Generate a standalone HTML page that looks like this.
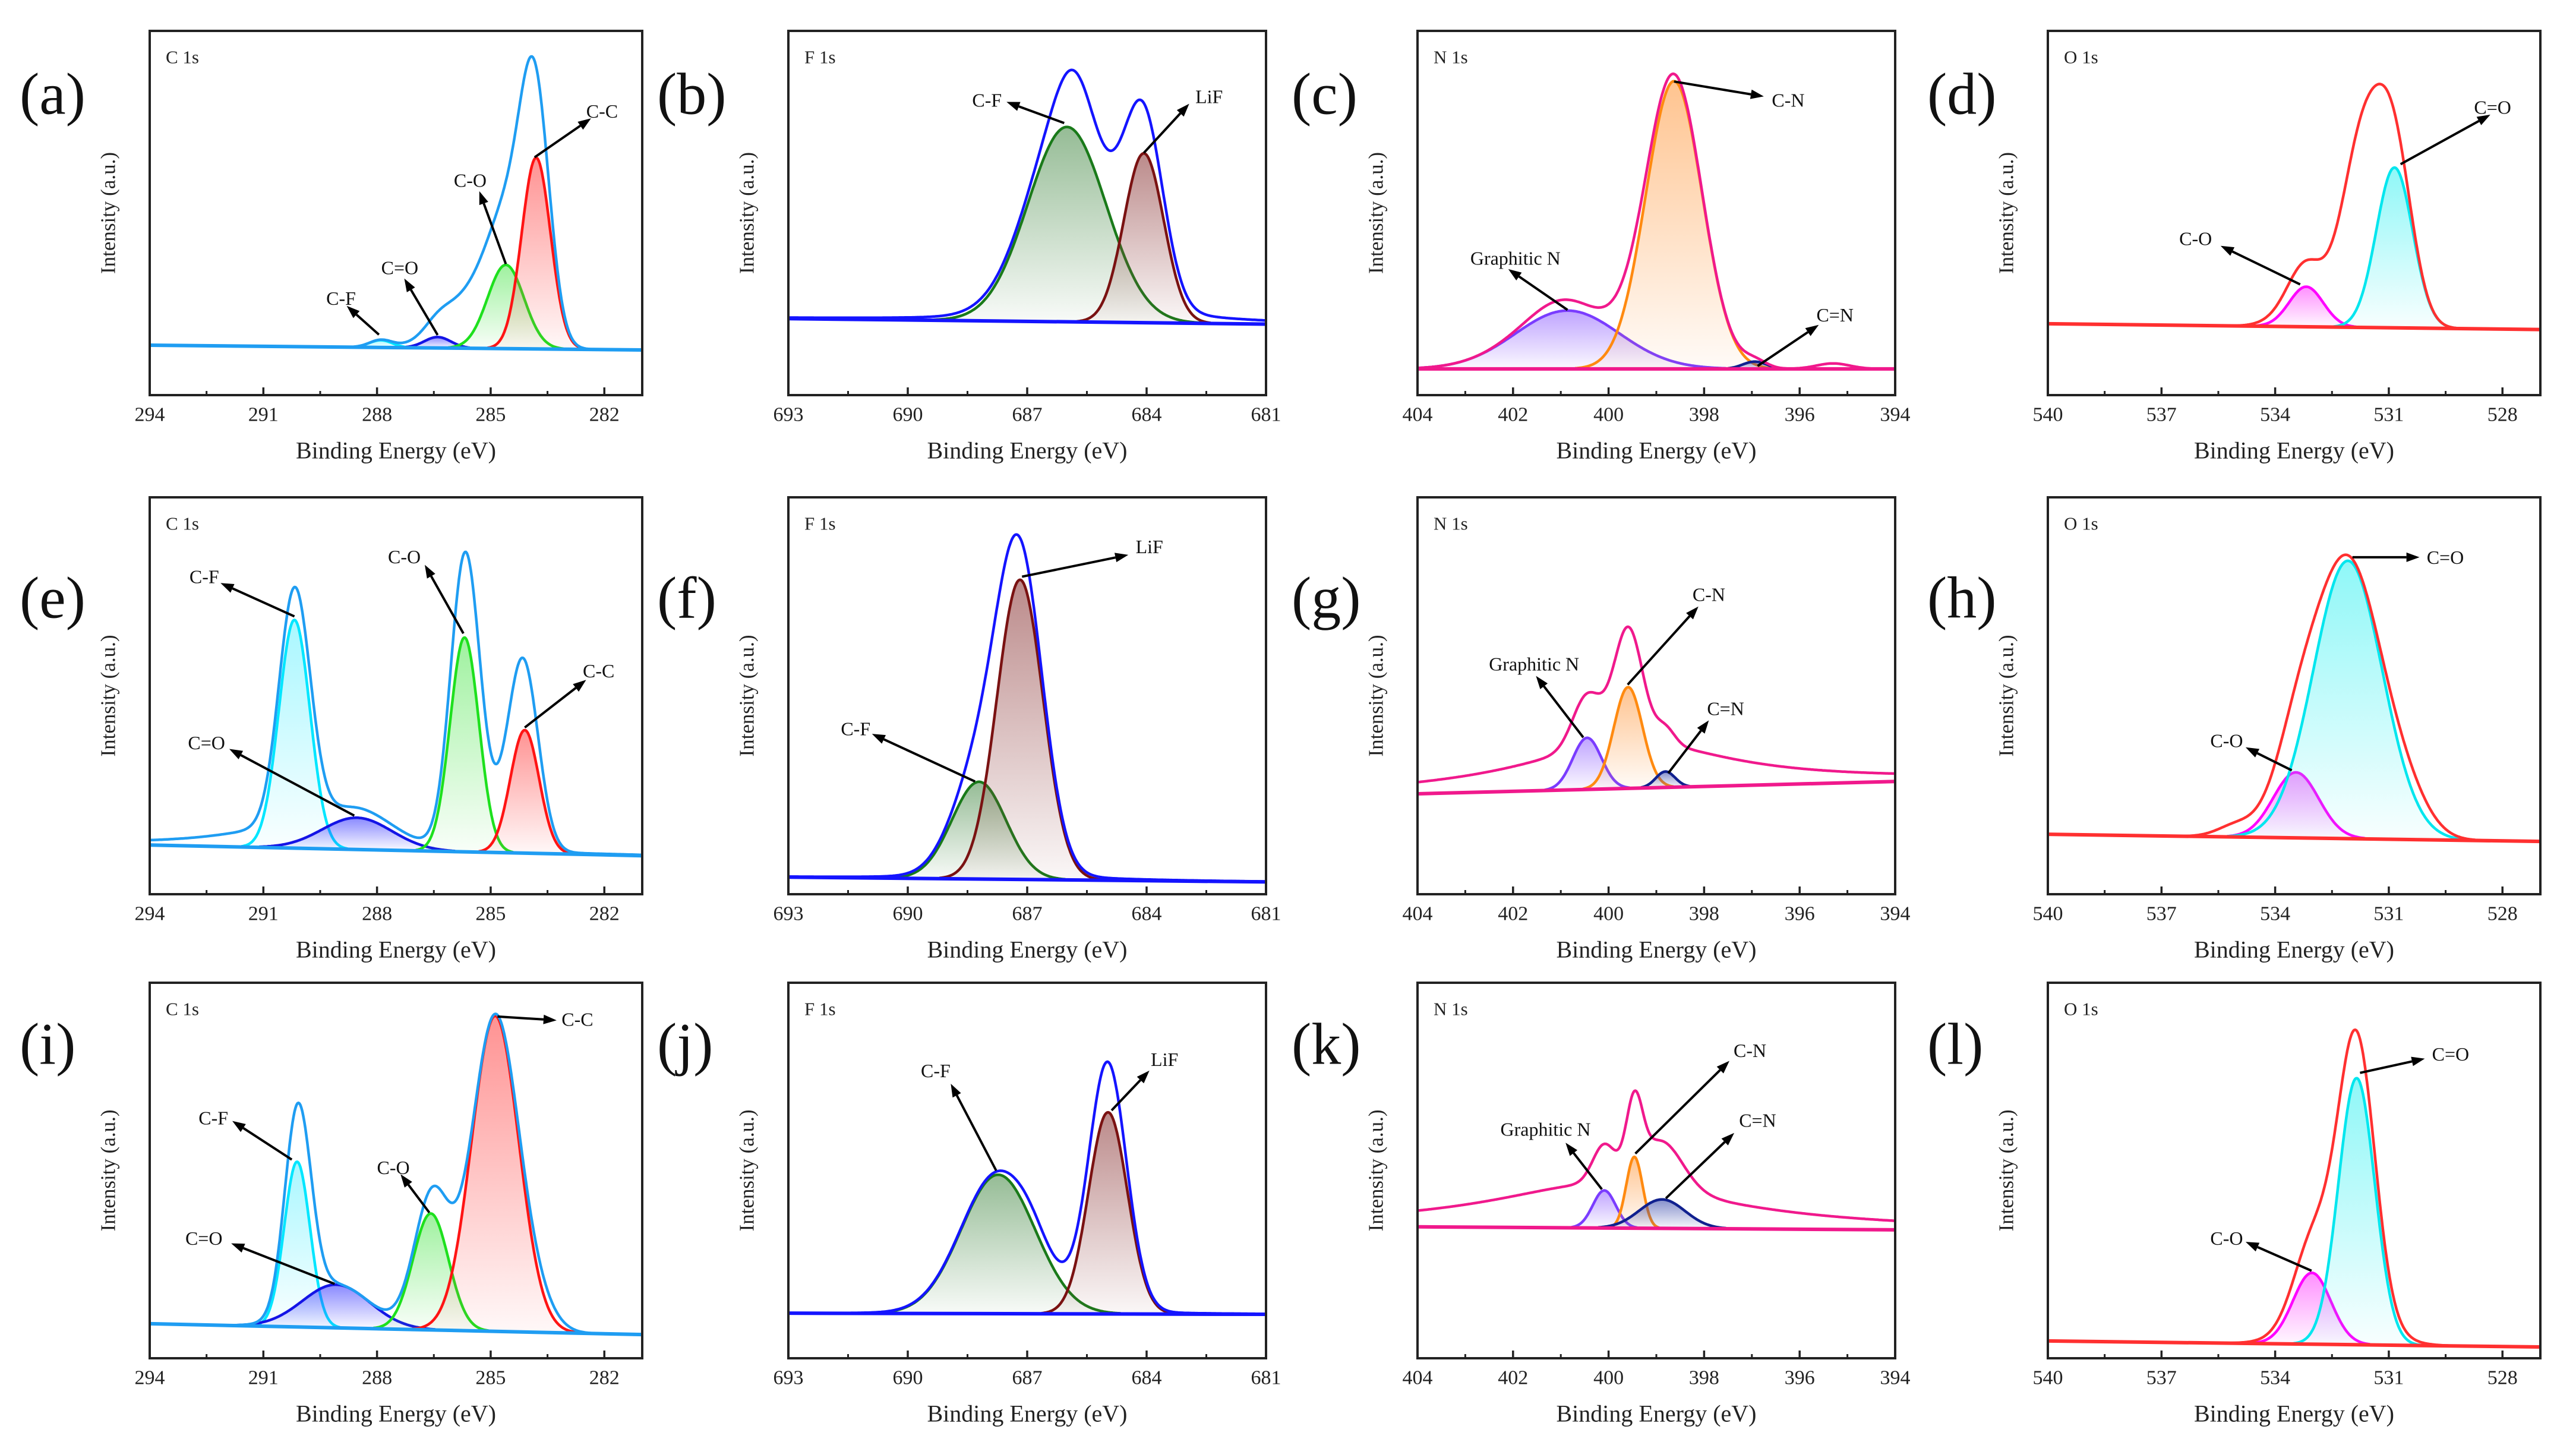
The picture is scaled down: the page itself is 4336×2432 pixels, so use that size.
<!DOCTYPE html>
<html><head><meta charset="utf-8"><title>XPS spectra</title>
<style>
html,body{margin:0;padding:0;background:#fff;}
svg, svg text{font-family:"Liberation Serif","DejaVu Serif",serif;}
</style></head>
<body>
<svg id="fig" xmlns="http://www.w3.org/2000/svg" width="4336" height="2427" viewBox="0 0 4336 2427" font-family="Liberation Serif, DejaVu Serif, serif">
<rect x="0" y="0" width="4336" height="2427" fill="#fff"/>
<defs id="defs"></defs>
</svg>
<script>
// ---------- tick arrays ----------
const cTicks=[294,291,288,285,282];
const cMinor=[292.5,289.5,286.5,283.5];
const fTicks=[693,690,687,684,681];
const fMinor=[691.5,688.5,685.5,682.5];
const nTicks=[404,402,400,398,396,394];
const nMinor=[403,401,399,397,395];
const oTicks=[540,537,534,531,528];
const oMinor=[538.5,535.5,532.5,529.5];

// ---------- panel data (centers eV, heights fraction of frame, widths sigma eV) ----------
const aNames=["C-F","C=O","C-O","C-C"];
const aCenters=[287.9,286.4,284.6,283.8];
const aHeights=[0.02,0.03,0.23,0.525];
const aWidths=[0.3,0.35,0.48,0.38];
const aBase=[0.137,0.124];
const aExtra=[[284.0,0.18,0.4,"g"],[285.3,0.16,0.85,"g"]];

const bNames=["C-F","LiF"];
const bCenters=[686.0,684.07];
const bHeights=[0.535,0.465];
const bWidths=[0.98,0.5];
const bBase=[0.21,0.195];
const bExtra=[[685.8,0.12,0.45,"g"],[684.1,0.02,0.4,"g"],[685.0,0.05,2,"l"]];

const cNames=["Graphitic N","C-N","C=N"];
const cCenters=[400.86,398.63,396.94];
const cHeights=[0.16,0.79,0.02];
const cWidths=[1.09,0.59,0.25];
const cBase=[0.072,0.072];
const cExtra=[[401.0,0.03,0.6,"g"],[395.3,0.015,0.35,"g"]];

const dNames=["C-O","C=O"];
const dCenters=[533.18,530.85];
const dHeights=[0.11,0.44];
const dWidths=[0.45,0.48];
const dBase=[0.196,0.18];
const dExtra=[[531.7,0.5,0.55,"g"],[533.3,0.06,0.6,"g"]];

const eNames=["C-F","C=O","C-O","C-C"];
const eCenters=[290.18,288.53,285.69,284.1];
const eHeights=[0.575,0.08,0.54,0.31];
const eWidths=[0.41,0.92,0.38,0.38];
const eBase=[0.124,0.097];
const eExtra=[[290.0,0.02,0.4,"g"],[290.5,0.05,2,"l"],[285.6,0.21,0.4,"g"],[284.3,0.19,0.45,"g"]];

const fNames=["C-F","LiF"];
const fCenters=[688.21,687.18];
const fHeights=[0.245,0.755];
const fWidths=[0.68,0.58];
const fBase=[0.043,0.031];
const fExtra=[[687.5,0.03,1.2,"l"]];

const gNames=["Graphitic N","C-N","C=N"];
const gCenters=[400.45,399.59,398.81];
const gHeights=[0.13,0.255,0.04];
const gWidths=[0.3,0.3,0.2];
const gBase=[0.253,0.284];
const gExtra=[[399.6,0.12,2.5,"l"],[399.58,0.03,0.3,"g"]];

const hNames=["C-O","C=O"];
const hCenters=[533.45,532.08];
const hHeights=[0.165,0.70];
const hWidths=[0.6,0.91];
const hBase=[0.151,0.133];
const hExtra=[[530.5,0.06,0.6,"g"],[535.0,0.03,0.5,"g"]];

const iNames=["C-F","C=O","C-O","C-C"];
const iCenters=[290.11,289.08,286.58,284.88];
const iHeights=[0.44,0.115,0.31,0.84];
const iWidths=[0.34,0.89,0.47,0.62];
const iBase=[0.092,0.063];
const iExtra=[[290.0,0.1,0.35,"g"],[286.4,0.05,0.4,"g"],[283.8,0.05,0.5,"g"]];

const jNames=["C-F","LiF"];
const jCenters=[687.73,684.97];
const jHeights=[0.37,0.537];
const jWidths=[0.93,0.49];
const jBase=[0.12,0.117];
const jExtra=[[685.0,0.12,0.4,"g"],[686.9,0.03,0.4,"g"],[686.0,0.015,1.5,"l"]];

const kNames=["Graphitic N","C-N","C=N"];
const kCenters=[400.09,399.46,398.88];
const kHeights=[0.10,0.19,0.077];
const kWidths=[0.24,0.17,0.48];
const kBase=[0.35,0.342];
const kExtra=[[400.0,0.12,3,"l"],[398.9,0.05,0.4,"g"]];

const lNames=["C-O","C=O"];
const lCenters=[533.03,531.85];
const lHeights=[0.19,0.71];
const lWidths=[0.5,0.48];
const lBase=[0.046,0.03];
const lExtra=[[532.3,0.13,0.9,"g"]];

// annotations: [label, textX(eV), textY(frac), arrowStartX, startY, arrowEndX, endY]
const aAnn=[["C-C",282.06,0.78,283.84,0.653,282.35,0.76],["C-O",285.54,0.59,284.6,0.36,285.3,0.56],["C=O",287.4,0.35,286.4,0.165,287.28,0.32],["C-F",288.95,0.266,287.95,0.166,288.8,0.245]];
const bAnn=[["C-F",688.01,0.81,686.07,0.747,687.52,0.805],["LiF",682.43,0.82,684.07,0.665,682.93,0.80]];
const cAnn=[["C-N",396.24,0.81,398.63,0.861,396.75,0.82],["Graphitic N",401.95,0.376,400.86,0.234,402.1,0.346],["C=N",395.26,0.22,396.88,0.08,395.6,0.193]];
const dAnn=[["C=O",528.26,0.79,530.69,0.634,528.32,0.77],["C-O",536.1,0.43,533.34,0.304,535.44,0.41]];
const eAnn=[["C-F",292.56,0.80,290.18,0.70,292.13,0.784],["C=O",292.5,0.382,288.6,0.198,291.9,0.366],["C-O",287.28,0.85,285.72,0.657,286.74,0.83],["C-C",282.15,0.563,284.1,0.42,282.48,0.54]];
const fAnn=[["LiF",683.93,0.876,687.13,0.80,684.46,0.855],["C-F",691.31,0.417,688.31,0.284,690.9,0.404]];
const gAnn=[["C-N",397.9,0.755,399.6,0.528,398.12,0.725],["Graphitic N",401.56,0.58,400.53,0.395,401.52,0.55],["C=N",397.55,0.468,398.75,0.305,397.9,0.438]];
const hAnn=[["C=O",529.51,0.849,531.96,0.849,530.19,0.849],["C-O",535.28,0.387,533.56,0.312,534.78,0.37]];
const iAnn=[["C-C",282.71,0.903,284.82,0.91,283.26,0.90],["C-F",292.32,0.64,290.25,0.529,291.82,0.632],["C-O",287.57,0.508,286.62,0.388,287.38,0.49],["C=O",292.57,0.32,289.12,0.198,291.85,0.306]];
const jAnn=[["LiF",683.55,0.796,684.88,0.66,683.93,0.766],["C-F",689.3,0.766,687.78,0.50,688.92,0.731]];
const kAnn=[["C-N",397.04,0.82,399.44,0.545,397.47,0.792],["Graphitic N",401.32,0.61,400.14,0.45,400.9,0.574],["C=N",396.88,0.634,398.8,0.426,397.37,0.60]];
const lAnn=[["C=O",529.37,0.81,531.76,0.76,530.05,0.798],["C-O",535.28,0.32,533.04,0.233,534.78,0.31]];

// ---------- styles ----------
const STY={
 C:{env:"#1f9df2",range:[294,281],ticks:cTicks,minor:cMinor,title:"C 1s",
    col:{"C-F":["#00e6ff","#6ff2ff"],"C=O":["#1414e6","#3a3aff"],"C-O":["#1ee01e","#5ee85e"],"C-C":["#ff1414","#ff4a4a"]}},
 F:{env:"#1414ff",range:[693,681],ticks:fTicks,minor:fMinor,title:"F 1s",
    col:{"C-F":["#1a7a1a","#4f8f4f"],"LiF":["#7a1212","#8e3c3c"]}},
 N:{env:"#f0198c",range:[404,394],ticks:nTicks,minor:nMinor,title:"N 1s",
    col:{"Graphitic N":["#7a3cff","#9466ff"],"C-N":["#ff8a10","#ff9c45"],"C=N":["#10208f","#3444a8"]}},
 O:{env:"#ff3030",range:[540,527],ticks:oTicks,minor:oMinor,title:"O 1s",
    col:{"C-O":["#ff00ff","#ff44ff"],"C=O":["#00e6ee","#44f2f2"]}}
};
const COLS=[[252,1081],[1327,2131],[2386,3190],[3447,4276]];
const ROWS=[[52,665],[837,1505],[1654,2286]];
const LETTERX=[33,1106,2174,3244];
const LETTERY=[158,1006,1757];
const FONT="Liberation Serif, DejaVu Serif, serif";

const PANELS=[
 {id:"a",t:"C",r:0,c:0,names:aNames,cen:aCenters,h:aHeights,w:aWidths,base:aBase,extra:aExtra,ann:aAnn},
 {id:"b",t:"F",r:0,c:1,names:bNames,cen:bCenters,h:bHeights,w:bWidths,base:bBase,extra:bExtra,ann:bAnn},
 {id:"c",t:"N",r:0,c:2,names:cNames,cen:cCenters,h:cHeights,w:cWidths,base:cBase,extra:cExtra,ann:cAnn},
 {id:"d",t:"O",r:0,c:3,names:dNames,cen:dCenters,h:dHeights,w:dWidths,base:dBase,extra:dExtra,ann:dAnn},
 {id:"e",t:"C",r:1,c:0,names:eNames,cen:eCenters,h:eHeights,w:eWidths,base:eBase,extra:eExtra,ann:eAnn},
 {id:"f",t:"F",r:1,c:1,names:fNames,cen:fCenters,h:fHeights,w:fWidths,base:fBase,extra:fExtra,ann:fAnn},
 {id:"g",t:"N",r:1,c:2,names:gNames,cen:gCenters,h:gHeights,w:gWidths,base:gBase,extra:gExtra,ann:gAnn},
 {id:"h",t:"O",r:1,c:3,names:hNames,cen:hCenters,h:hHeights,w:hWidths,base:hBase,extra:hExtra,ann:hAnn},
 {id:"i",t:"C",r:2,c:0,names:iNames,cen:iCenters,h:iHeights,w:iWidths,base:iBase,extra:iExtra,ann:iAnn},
 {id:"j",t:"F",r:2,c:1,names:jNames,cen:jCenters,h:jHeights,w:jWidths,base:jBase,extra:jExtra,ann:jAnn},
 {id:"k",t:"N",r:2,c:2,names:kNames,cen:kCenters,h:kHeights,w:kWidths,base:kBase,extra:kExtra,ann:kAnn},
 {id:"l",t:"O",r:2,c:3,names:lNames,cen:lCenters,h:lHeights,w:lWidths,base:lBase,extra:lExtra,ann:lAnn}
];

const NS="http://www.w3.org/2000/svg";
const svg=document.getElementById("fig");
const defs=document.getElementById("defs");
function mk(tag,attrs,parent){const e=document.createElementNS(NS,tag);for(const k in attrs)e.setAttribute(k,attrs[k]);(parent||svg).appendChild(e);return e;}
function slug(s){return s.toLowerCase().replace(/=/g,"-double-").replace(/[^a-z0-9]+/g,"-").replace(/^-|-$/g,"");}
function gauss(x,c,s){return Math.exp(-(x-c)*(x-c)/(2*s*s));}
function shape(x,c,w,t){return t==="l"?1/(1+((x-c)/w)*((x-c)/w)):gauss(x,c,w);}

PANELS.forEach(p=>{
 const st=STY[p.t];
 const L=COLS[p.c][0],R=COLS[p.c][1],T=ROWS[p.r][0],B=ROWS[p.r][1];
 const x0=st.range[0],x1=st.range[1];
 const X=e=>L+(x0-e)/(x0-x1)*(R-L);
 const Y=f=>B-f*(B-T);
 const base=e=>p.base[0]+(p.base[1]-p.base[0])*(x0-e)/(x0-x1);
 const g=mk("g",{});
 
 
 const clipId="clip-"+p.id;
 const cp=mk("clipPath",{id:clipId},defs);
 mk("rect",{x:L,y:T,width:R-L,height:B-T},cp);
 const plot=mk("g",{"clip-path":"url(#"+clipId+")"},g);
 
 
 const N=500,xs=[];
 for(let i=0;i<=N;i++)xs.push(x0-(x0-x1)*i/N);
 p.names.forEach((nm,k)=>{
   const cols=st.col[nm];
   const c=p.cen[k],hh=p.h[k],w=p.w[k];
   const gid="grad-"+p.id+"-"+k;
   const lg=mk("linearGradient",{id:gid,gradientUnits:"userSpaceOnUse",x1:0,x2:0,y1:Y(base(c)+hh),y2:Y(base(c))},defs);
   mk("stop",{offset:"0","stop-color":cols[1],"stop-opacity":"0.6"},lg);
   mk("stop",{offset:"1","stop-color":cols[1],"stop-opacity":"0.04"},lg);
   let top=[],bot=[];
   xs.forEach(x=>{const v=hh*gauss(x,c,w);if(v>0.0015){top.push([X(x),Y(base(x)+v)]);bot.push([X(x),Y(base(x))]);}});
   const poly=top.concat(bot.reverse()).map(q=>q[0].toFixed(1)+","+q[1].toFixed(1)).join(" ");
   const fill=mk("polygon",{points:poly,fill:"url(#"+gid+")",stroke:"none"},plot);
   
   
   const line=mk("polyline",{points:top.map(q=>q[0].toFixed(1)+","+q[1].toFixed(1)).join(" "),fill:"none",stroke:cols[0],"stroke-width":4.5,"stroke-linejoin":"round"},plot);
   
   
 });
 const bl=mk("line",{x1:X(x0),y1:Y(base(x0)),x2:X(x1),y2:Y(base(x1)),stroke:st.env,"stroke-width":6},plot);
 
 
 const env=xs.map(x=>{let v=base(x);p.names.forEach((nm,k)=>{v+=p.h[k]*gauss(x,p.cen[k],p.w[k]);});p.extra.forEach(ex=>{v+=ex[1]*shape(x,ex[0],ex[2],ex[3]);});return X(x).toFixed(1)+","+Y(v).toFixed(1);}).join(" ");
 const el=mk("polyline",{points:env,fill:"none",stroke:st.env,"stroke-width":4.5,"stroke-linejoin":"round"},plot);
 
 
 const fr=mk("rect",{x:L,y:T,width:R-L,height:B-T,fill:"none",stroke:"#222","stroke-width":4},g);
 
 
 st.ticks.forEach(t=>{
   const tk=mk("line",{x1:X(t),x2:X(t),y1:B,y2:B-13,stroke:"#222","stroke-width":3.5},g);
   
   
   const tl=mk("text",{x:X(t),y:B+33,"font-size":34,"font-family":FONT,"text-anchor":"middle","dominant-baseline":"central",fill:"#222"},g);
   tl.textContent=t;
   
   
 });
 st.minor.forEach(t=>{
   const tk=mk("line",{x1:X(t),x2:X(t),y1:B,y2:B-7,stroke:"#222","stroke-width":3},g);
   
   
 });
 const xt=mk("text",{x:(L+R)/2,y:B+93,"font-size":40,"font-family":FONT,"text-anchor":"middle","dominant-baseline":"central",fill:"#222"},g);
 xt.textContent="Binding Energy (eV)";
 
 
 const yc=(T+B)/2;
 const yt=mk("text",{x:L-70,y:yc,"font-size":35,"font-family":FONT,"text-anchor":"middle","dominant-baseline":"central",fill:"#222",transform:"rotate(-90 "+(L-70)+" "+yc+")"},g);
 yt.textContent="Intensity (a.u.)";
 
 
 const ttl=mk("text",{x:L+27,y:T+44,"font-size":31,"font-family":FONT,"dominant-baseline":"central",fill:"#222"},g);
 ttl.textContent=st.title;
 
 
 const lt=mk("text",{x:LETTERX[p.c],y:LETTERY[p.r],"font-size":100,"font-family":FONT,"dominant-baseline":"central",fill:"#111"},g);
 lt.textContent="("+p.id+")";
 
 
 p.ann.forEach(a=>{
   const sx=X(a[3]),sy=Y(a[4]),ex=X(a[5]),ey=Y(a[6]);
   const ang=Math.atan2(ey-sy,ex-sx),len=22,hw=8;
   const bx=ex-len*Math.cos(ang),by=ey-len*Math.sin(ang);
   const ln=mk("line",{x1:sx,y1:sy,x2:bx,y2:by,stroke:"#000","stroke-width":4},g);
   
   
   const pts=[[ex,ey],[bx+hw*Math.sin(ang),by-hw*Math.cos(ang)],[bx-hw*Math.sin(ang),by+hw*Math.cos(ang)]].map(q=>q[0].toFixed(1)+","+q[1].toFixed(1)).join(" ");
   const hd=mk("polygon",{points:pts,fill:"#000"},g);
   
   
   const tx=mk("text",{x:X(a[1]),y:Y(a[2]),"font-size":32,"font-family":FONT,"text-anchor":"middle","dominant-baseline":"central",fill:"#111"},g);
   tx.textContent=a[0];
   
   
 });
});
</script>
</body></html>
